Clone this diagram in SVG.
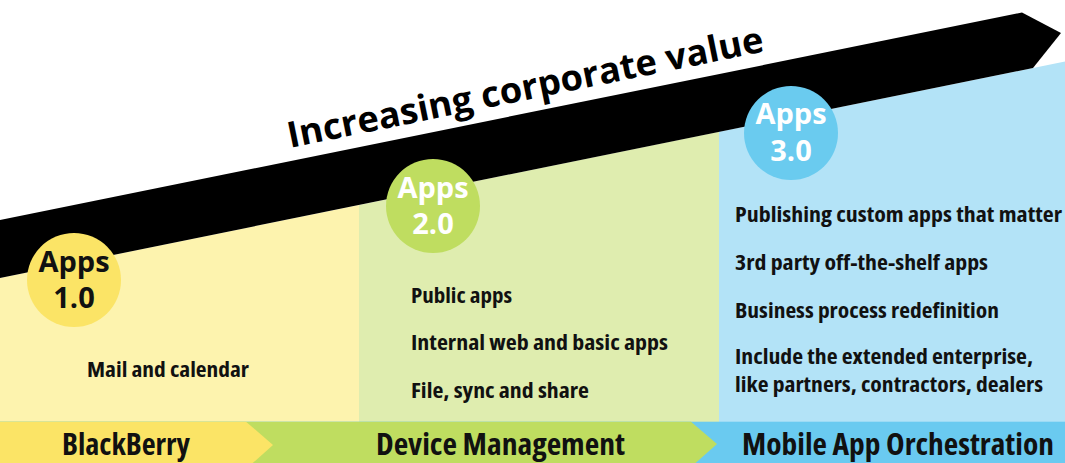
<svg xmlns="http://www.w3.org/2000/svg" width="1065" height="463" viewBox="0 0 1065 463">
<style>
.pt{font-family:"Open Sans","Liberation Sans",sans-serif;font-weight:bold;font-size:22px;fill:#111;font-stretch:condensed}
.bt{font-family:"Open Sans","Liberation Sans",sans-serif;font-weight:bold;font-size:30px;fill:#111;font-stretch:condensed}
.ct{font-family:"Open Sans","Liberation Sans",sans-serif;font-weight:bold;font-size:29px;text-anchor:middle}
.title{font-family:"Open Sans","Liberation Sans",sans-serif;font-weight:bold;font-size:36px;fill:#000}
</style>
<rect width="1065" height="463" fill="#ffffff"/>
<g id="panels">
<polygon points="0,278 359,205 359,422 0,422" fill="#FDF3AE"/>
<polygon points="359,205 719,131.8 719,422 359,422" fill="#DFEDAF"/>
<polygon points="719,131.8 1065,61.5 1065,422 719,422" fill="#B3E3F7"/>
</g>
<g id="band">
<polygon points="0,220 1022,12.5 1061,33 1033,68 0,278" fill="#000"/>
<text class="title" x="290" y="148" transform="rotate(-11.5 290 148)" textLength="485" lengthAdjust="spacingAndGlyphs">Increasing corporate value</text>
</g>
<g id="bottom-bar">
<rect x="0" y="421.7" width="1065" height="42" fill="#6ACAF0"/>
<polygon points="0,421.7 691,421.7 717,444 691,467 0,467" fill="#BFDD60"/>
<polygon points="0,421.7 246,421.7 273,445 246,469 0,469" fill="#FBE466"/>
<text class="bt" x="62" y="455" textLength="128" lengthAdjust="spacingAndGlyphs">BlackBerry</text>
<text class="bt" x="376" y="455" textLength="249" lengthAdjust="spacingAndGlyphs">Device Management</text>
<text class="bt" x="742" y="455" textLength="312" lengthAdjust="spacingAndGlyphs">Mobile App Orchestration</text>
</g>
<g id="apps1">
<circle cx="74" cy="280" r="47" fill="#FBE466"/>
<text class="ct" x="74" y="272" fill="#111">Apps</text>
<text class="ct" x="74" y="308" fill="#111">1.0</text>
<text class="pt" x="87" y="377" textLength="162" lengthAdjust="spacingAndGlyphs">Mail and calendar</text>
</g>
<g id="apps2">
<circle cx="433" cy="206" r="47" fill="#BFDD60"/>
<text class="ct" x="433" y="198" fill="#fff">Apps</text>
<text class="ct" x="433" y="234" fill="#fff">2.0</text>
<text class="pt" x="411" y="303" textLength="101" lengthAdjust="spacingAndGlyphs">Public apps</text>
<text class="pt" x="411" y="350" textLength="257" lengthAdjust="spacingAndGlyphs">Internal web and basic apps</text>
<text class="pt" x="411" y="397.5" textLength="178" lengthAdjust="spacingAndGlyphs">File, sync and share</text>
</g>
<g id="apps3">
<circle cx="791" cy="133" r="47" fill="#6ACBEF"/>
<text class="ct" x="791" y="124" fill="#fff">Apps</text>
<text class="ct" x="791" y="161" fill="#fff">3.0</text>
<text class="pt" x="735" y="222" textLength="327" lengthAdjust="spacingAndGlyphs">Publishing custom apps that matter</text>
<text class="pt" x="735" y="270" textLength="253" lengthAdjust="spacingAndGlyphs">3rd party off-the-shelf apps</text>
<text class="pt" x="735" y="317.5" textLength="264" lengthAdjust="spacingAndGlyphs">Business process redefinition</text>
<text class="pt" x="735" y="364" textLength="298" lengthAdjust="spacingAndGlyphs">Include the extended enterprise,</text>
<text class="pt" x="735" y="391.5" textLength="308" lengthAdjust="spacingAndGlyphs">like partners, contractors, dealers</text>
</g>
</svg>
